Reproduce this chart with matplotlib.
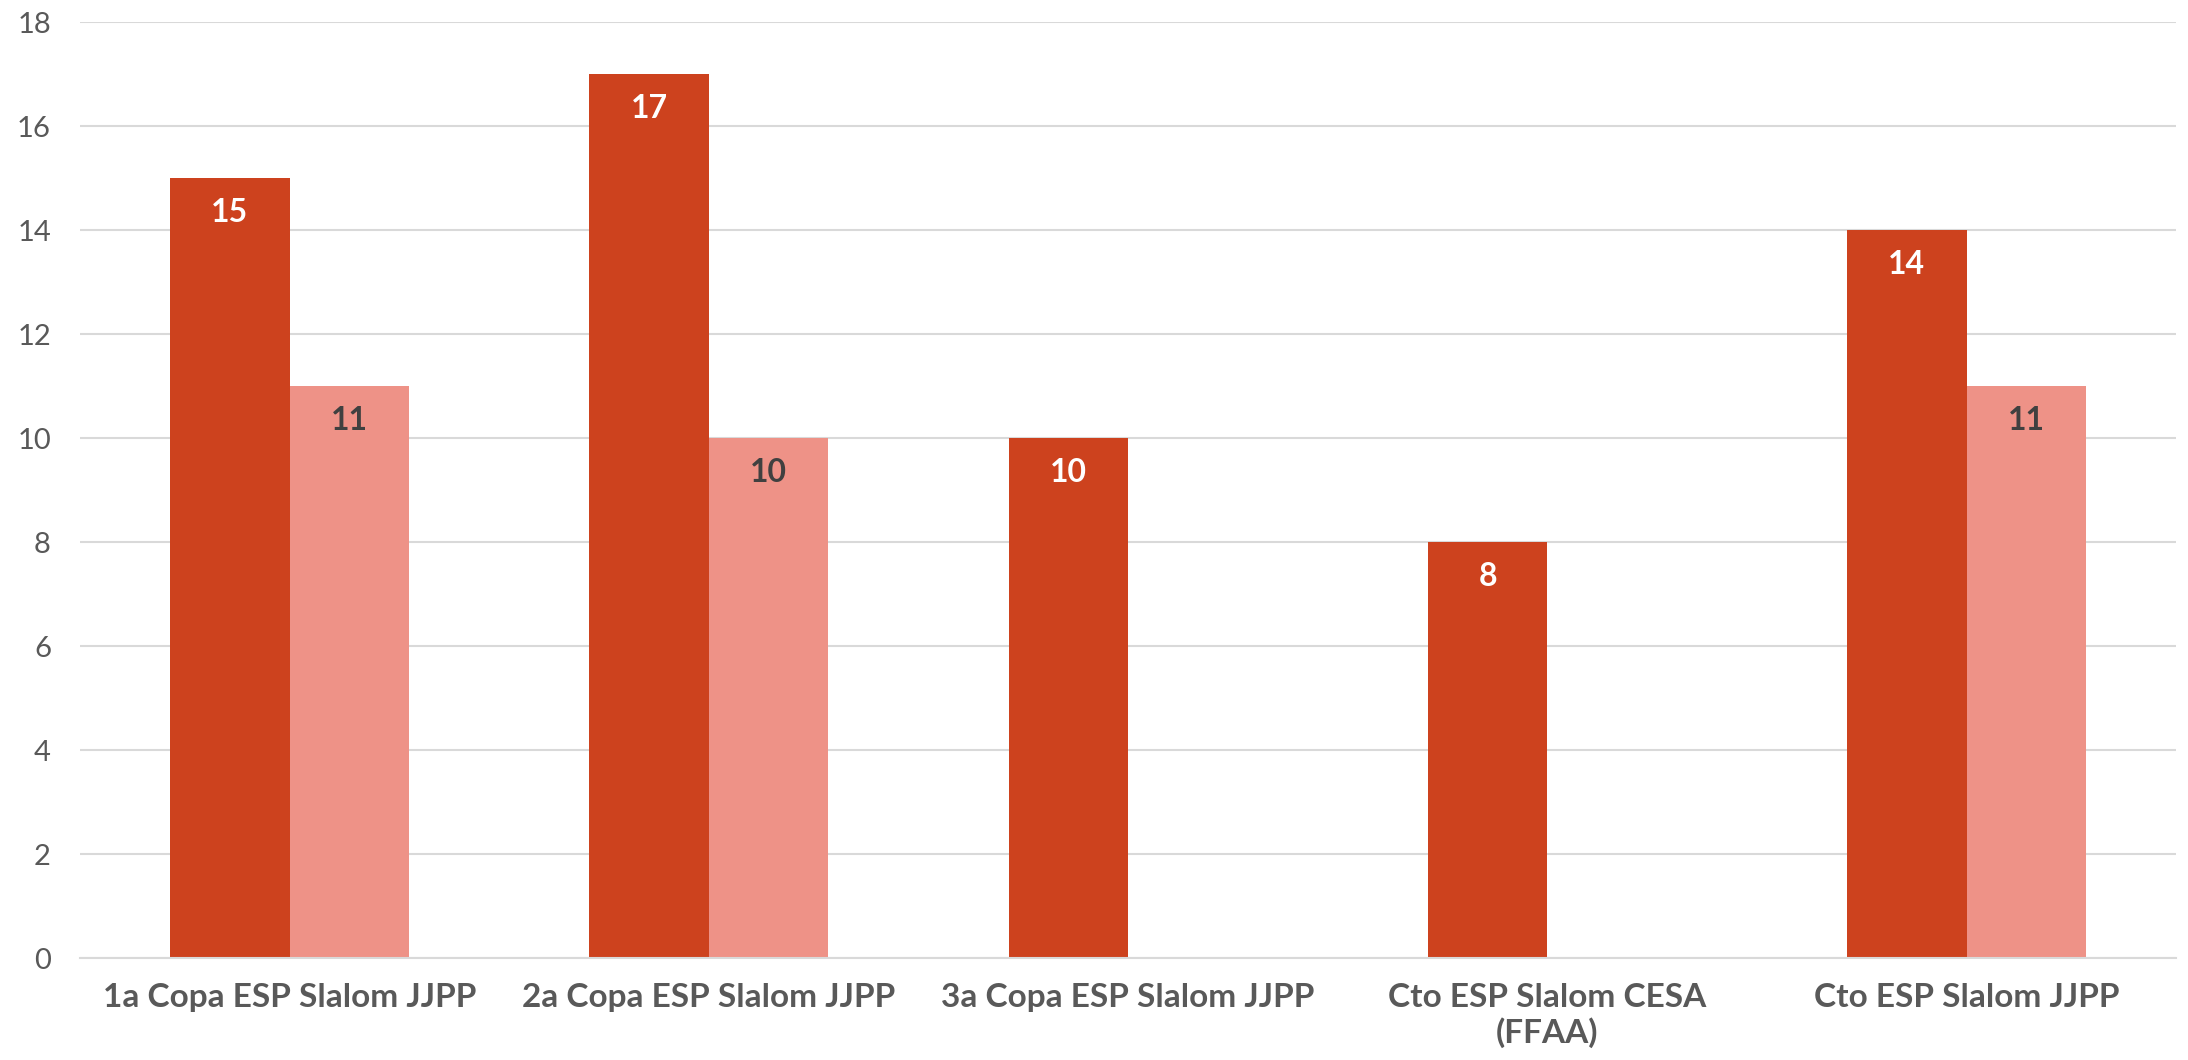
import matplotlib.pyplot as plt
import numpy as np

plt.rcParams['font.family'] = ['Lato', 'DejaVu Sans']

categories = ['1a Copa ESP Slalom JJPP', '2a Copa ESP Slalom JJPP', '3a Copa ESP Slalom JJPP',
              'Cto ESP Slalom CESA\n(FFAA)', 'Cto ESP Slalom JJPP']
serie1 = [15, 17, 10, 8, 14]
serie2 = [11, 10, np.nan, np.nan, 11]

dark = '#CD421E'
light = '#EE9287'

fig = plt.figure(figsize=(21.88, 10.6), dpi=100)
ax = fig.add_axes([0.0366, 0.0962, 0.958, 0.883])

x = np.arange(len(categories))
w = 0.285
b1 = ax.bar(x - w/2, serie1, w, color=dark, zorder=2)
b2 = ax.bar(x + w/2, serie2, w, color=light, zorder=2)

for rect, v in zip(b1, serie1):
    ax.annotate(str(v), (rect.get_x() + rect.get_width()/2, v), xytext=(0, -34),
                textcoords='offset pixels',
                ha='center', va='center', color='white', fontsize=23, fontweight='bold')
for rect, v in zip(b2, serie2):
    if np.isnan(v):
        continue
    ax.annotate(str(int(v)), (rect.get_x() + rect.get_width()/2, v), xytext=(0, -34),
                textcoords='offset pixels',
                ha='center', va='center', color='#404040', fontsize=23, fontweight='bold')

ax.set_xlim(-0.5, len(categories) - 0.5)
ax.set_ylim(0, 18)
ax.set_yticks(range(0, 19, 2))
ax.yaxis.grid(True, color='#D9D9D9', linewidth=1.5, zorder=0)
ax.set_axisbelow(True)
for s in ['top', 'right', 'left']:
    ax.spines[s].set_visible(False)
ax.spines['bottom'].set_color('#D9D9D9')
ax.spines['bottom'].set_linewidth(1.5)
ax.tick_params(axis='both', length=0)
ax.tick_params(axis='y', labelsize=21, labelcolor='#595959', pad=21)
ax.set_xticks(x)
ax.set_xticklabels(categories, fontsize=24, fontweight='bold', color='#595959',
                   linespacing=1.2)
ax.tick_params(axis='x', pad=18)

fig.savefig('out.png', dpi=100)
